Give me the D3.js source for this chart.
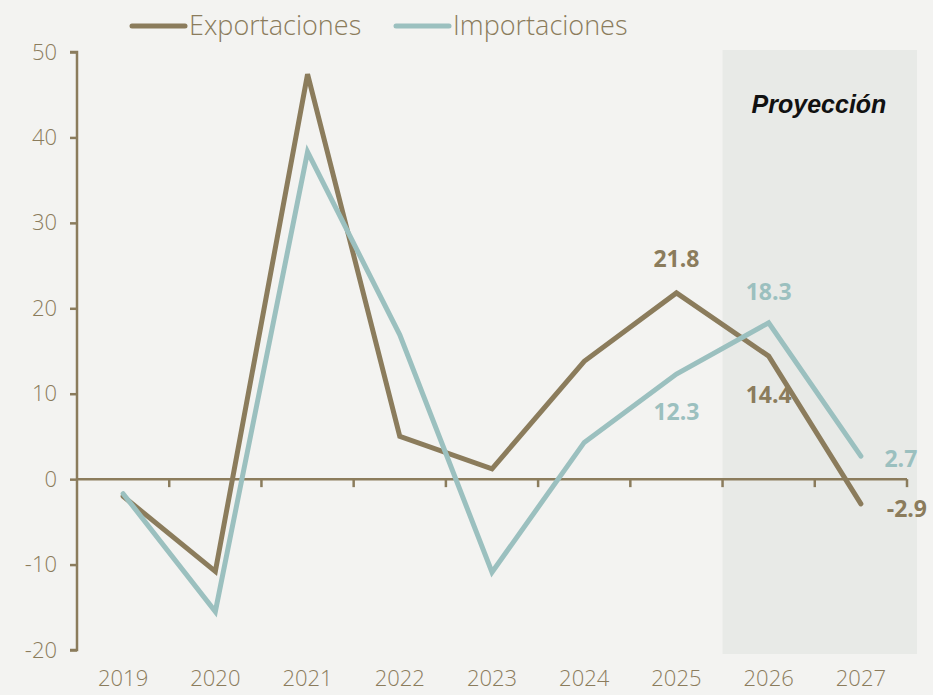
<!DOCTYPE html>
<html>
<head>
<meta charset="utf-8">
<script src="https://cdn.jsdelivr.net/npm/d3@7"></script>
<style>
  body { margin: 0; background: #f3f3f1; }
  svg { display: block; }
</style>
</head>
<body>
<svg id="chart" width="933" height="695"></svg>
<script>
// data
var years = ["2019", "2020", "2021", "2022", "2023", "2024", "2025", "2026", "2027"];
var exportaciones = [-2.0, -10.8, 47.4, 5.0, 1.2, 13.8, 21.8, 14.4, -2.9];
var importaciones = [-1.7, -15.5, 38.3, 16.9, -10.9, 4.3, 12.3, 18.3, 2.7];
var yTicks = [-20, -10, 0, 10, 20, 30, 40, 50];
var projectionYears = ["2026", "2027"];

var brown = "#8b7c5c",
    teal = "#9bc0bf",
    font = "'Open Sans', Lato, sans-serif";

var svg = d3.select("#chart");

var x = d3.scaleBand().domain(years).range([77, 907]);
var y = d3.scaleLinear().domain([-20, 50]).range([650, 52]);

// hyphen instead of unicode minus, like the original
function fmt(v, p) { return d3.format(p)(v).replace("\u2212", "-"); }

// projection shading
var px0 = x(projectionYears[0]);
svg.append("rect")
  .attr("x", px0)
  .attr("y", 50)
  .attr("width", 917 - px0)
  .attr("height", 604)
  .attr("fill", "#e8eae7");

svg.append("text")
  .attr("x", 819)
  .attr("y", 113)
  .attr("text-anchor", "middle")
  .attr("font-family", "'Liberation Sans', Arial, sans-serif")
  .attr("font-weight", "bold")
  .attr("font-style", "italic")
  .attr("font-size", 25)
  .attr("fill", "#111")
  .text("Proyección");

// y axis
var yAxis = svg.append("g")
  .attr("transform", "translate(77,0)")
  .call(d3.axisLeft(y).tickValues(yTicks).tickSize(7).tickPadding(13)
    .tickFormat(function(d) { return fmt(d, "d"); }));
yAxis.select(".domain").attr("stroke", brown).attr("stroke-width", 2.5).attr("d", "M-7,52H0V650H-7");
yAxis.selectAll(".tick line").attr("stroke", brown).attr("stroke-width", 2.5);
yAxis.selectAll(".tick text")
  .attr("fill", brown)
  .attr("font-family", font)
  .attr("font-weight", 300)
  .attr("font-size", 22);

// x axis on zero line
var xAxis = svg.append("g")
  .attr("transform", "translate(0," + y(0) + ")");
xAxis.append("line")
  .attr("x1", 77).attr("x2", 907)
  .attr("stroke", brown).attr("stroke-width", 2.5);
xAxis.selectAll(".xt")
  .data(years)
  .enter().append("line")
  .attr("x1", function(d) { return x(d) + x.step(); })
  .attr("x2", function(d) { return x(d) + x.step(); })
  .attr("y1", 0).attr("y2", 8)
  .attr("stroke", brown).attr("stroke-width", 2.5);

svg.selectAll(".year")
  .data(years)
  .enter().append("text")
  .attr("x", function(d) { return x(d) + x.bandwidth() / 2; })
  .attr("y", 686)
  .attr("text-anchor", "middle")
  .attr("font-family", font)
  .attr("font-weight", 300)
  .attr("font-size", 22)
  .attr("fill", brown)
  .text(function(d) { return d; });

// lines
function drawLine(values, color) {
  var line = d3.line()
    .x(function(d, i) { return x(years[i]) + x.bandwidth() / 2; })
    .y(function(d) { return y(d); });
  svg.append("path")
    .datum(values)
    .attr("d", line)
    .attr("fill", "none")
    .attr("stroke", color)
    .attr("stroke-width", 5)
    .attr("stroke-linecap", "round");
}
drawLine(exportaciones, brown);
drawLine(importaciones, teal);

// value labels
var labels = [
  { series: exportaciones, year: "2025", color: brown, dx: 0, dy: -26 },
  { series: exportaciones, year: "2026", color: brown, dx: 0, dy: 47 },
  { series: exportaciones, year: "2027", color: brown, dx: 46, dy: 13 },
  { series: importaciones, year: "2025", color: teal, dx: 0, dy: 46 },
  { series: importaciones, year: "2026", color: teal, dx: 0, dy: -23 },
  { series: importaciones, year: "2027", color: teal, dx: 40, dy: 11 }
];
svg.selectAll(".vlab")
  .data(labels)
  .enter().append("text")
  .attr("x", function(d) { return x(d.year) + x.bandwidth() / 2 + d.dx; })
  .attr("y", function(d) { return y(d.series[years.indexOf(d.year)]) + d.dy; })
  .attr("text-anchor", "middle")
  .attr("font-family", font)
  .attr("font-weight", "bold")
  .attr("font-size", 23)
  .attr("fill", function(d) { return d.color; })
  .text(function(d) { return fmt(d.series[years.indexOf(d.year)], ".1f"); });

// legend
var legend = [
  { name: "Exportaciones", color: brown, x: 132 },
  { name: "Importaciones", color: teal, x: 396 }
];
var lg = svg.selectAll(".leg").data(legend).enter().append("g")
  .attr("transform", function(d) { return "translate(" + d.x + ",26)"; });
lg.append("line")
  .attr("x1", 0).attr("x2", 53)
  .attr("stroke", function(d) { return d.color; })
  .attr("stroke-width", 5)
  .attr("stroke-linecap", "round");
lg.append("text")
  .attr("x", 57)
  .attr("y", 9)
  .attr("font-family", font)
  .attr("font-weight", 300)
  .attr("font-size", 27)
  .attr("fill", brown)
  .text(function(d) { return d.name; });
</script>
</body>
</html>
